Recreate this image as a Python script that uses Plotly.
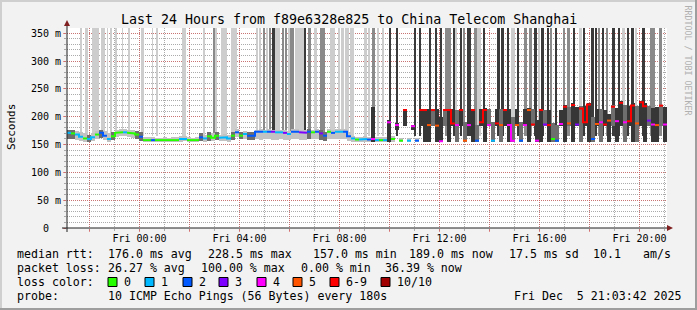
import plotly.graph_objects as go

# ---------------- data ----------------
TITLE = "Last 24 Hours from f89e6328e825 to China Telecom Shanghai"
START_H = -2.9    # first sample, hours relative to Fri 00:00
STEP_H = 0.16     # consolidated step (hours)

median_ms = [
    171, 170, 168, 164, 161, 160, 163, 168, 171, 166,
    160, 165, 171, 172, 172, 171, 170, 168, 164, 158,
    158, 158, 158, 157, 158, 157, 158, 158, 160, 160,
    158, 157, 158, 163, 161, 165, 162, 166, 162, 163,
    161, 166, 172, 166, 169, 166, 166, 173, 173, 173,
    173, 173, 172, 172, 171, 169, 173, 173, 172, 171,
    173, 172, 173, 170, 166, 173, 171, 173, 173, 173,
    165, 161, 159, 159, 160, 159, 160, 158, 158, 158,
    190, 160, 185, 157, 212, 157, 183, 157, 212, 212,
    185, 212, 184, 156, 212, 212, 188, 185, 212, 157,
    185, 212, 157, 190, 212, 185, 157, 188, 185, 212,
    185, 157, 185, 157, 185, 212, 186, 157, 212, 186,
    185, 160, 157, 187, 218, 188, 221, 186, 215, 190,
    222, 160, 187, 190, 186, 193, 218, 192, 225, 190,
    192, 220, 188, 226, 219, 193, 186, 185, 220, 186,
]
loss_cnt = [
    1, 0, 1, 1, 0, 1, 1, 0, 2, 2,
    1, 0, 0, 0, 1, 0, 0, 0, 2, 0,
    0, 2, 0, 0, 0, 0, 0, 0, 1, 1,
    0, 0, 0, 2, 1, 0, 0, 0, 1, 1,
    1, 0, 2, 0, 1, 2, 2, 2, 2, 1,
    2, 3, 1, 1, 3, 1, 2, 2, 3, 3,
    2, 0, 2, 3, 2, 0, 2, 1, 1, 2,
    2, 1, 0, 1, 1, 2, 4, 1, 0, 1,
    4, 0, 4, 0, 6, 1, 4, 2, 7, 7,
    5, 6, 5, 4, 7, 6, 7, 4, 6, 5,
    4, 6, 2, 6, 7, 4, 1, 6, 5, 6,
    4, 4, 5, 2, 4, 5, 7, 4, 6, 3,
    7, 0, 2, 4, 7, 5, 6, 3, 7, 6,
    6, 2, 5, 4, 6, 5, 7, 4, 7, 4,
    6, 7, 5, 6, 7, 3, 4, 5, 7, 4,
]
smoke_lo = [
    160, 160, 158, 156, 154, 154, 156, 160, 162, 158,
    155, 158, 163, 165, 165, 164, 162, 160, 156, 154,
    154, 154, 154, 154, 154, 154, 154, 154, 155, 156,
    154, 154, 154, 156, 155, 157, 156, 158, 156, 156,
    155, 158, 163, 160, 160, 158, 158, 160, 159, 160,
    160, 159, 159, 160, 158, 158, 160, 160, 158, 158,
    160, 160, 160, 158, 157, 160, 160, 160, 160, 160,
    156, 155, 154, 154, 154, 154, 155, 154, 154, 154,
    155, 155, 176, 154, 184, 154, 176, 154, 184, 155,
    155, 184, 155, 155, 184, 155, 184, 155, 184, 155,
    184, 155, 155, 184, 155, 184, 155, 184, 155, 184,
    155, 155, 184, 155, 184, 155, 184, 155, 155, 184,
    155, 155, 155, 184, 155, 184, 155, 184, 155, 184,
    155, 155, 184, 155, 184, 155, 184, 155, 184, 155,
    184, 155, 155, 184, 155, 184, 155, 155, 184, 155,
]
smoke_hi = [
    177, 176, 175, 172, 170, 168, 170, 175, 177, 174,
    170, 172, 176, 178, 178, 177, 176, 175, 172, 164,
    163, 163, 162, 162, 163, 162, 163, 163, 165, 166,
    163, 162, 163, 170, 168, 172, 170, 172, 168, 169,
    167, 172, 178, 173, 175, 172, 172, 177, 178, 177,
    178, 177, 177, 177, 176, 175, 178, 178, 177, 176,
    178, 177, 178, 176, 172, 178, 176, 178, 178, 178,
    172, 166, 164, 164, 165, 164, 217, 163, 163, 163,
    195, 165, 188, 162, 214, 162, 186, 162, 214, 214,
    214, 214, 214, 200, 214, 214, 214, 212, 214, 190,
    214, 214, 185, 214, 216, 214, 190, 214, 214, 214,
    214, 200, 214, 190, 214, 216, 214, 195, 214, 212,
    212, 188, 186, 212, 222, 218, 224, 218, 220, 220,
    225, 200, 214, 214, 212, 205, 222, 215, 229, 222,
    220, 225, 220, 228, 224, 220, 215, 218, 222, 218,
]
smoke_shade = [
    2, 2, 1, 1, 1, 2, 1, 1, 2, 1,
    1, 2, 1, 1, 1, 1, 1, 2, 2, 1,
    1, 1, 1, 1, 1, 1, 1, 1, 1, 1,
    1, 1, 1, 2, 1, 2, 1, 2, 1, 1,
    1, 2, 1, 2, 1, 2, 2, 1, 1, 1,
    1, 1, 1, 1, 1, 1, 1, 1, 1, 1,
    2, 1, 1, 2, 2, 1, 1, 1, 1, 1,
    1, 1, 1, 1, 1, 1, 3, 1, 1, 1,
    3, 1, 3, 1, 3, 1, 3, 1, 3, 3,
    3, 2, 3, 3, 2, 3, 3, 2, 3, 2,
    3, 3, 2, 3, 3, 2, 2, 3, 2, 3,
    3, 2, 3, 2, 3, 3, 2, 3, 3, 2,
    3, 2, 2, 3, 3, 2, 3, 3, 2, 3,
    3, 2, 3, 2, 3, 3, 2, 3, 3, 2,
    3, 3, 2, 3, 3, 2, 3, 3, 2, 3,
]

# periods where the slowest pings ran off the top of the scale
spike_start = [
    -2.38, -2.17, -2.10, -1.90, -1.83, -1.77, -1.67, -1.53, -1.30, -1.17, -0.99, -0.70, -0.43, 0.06, 0.50, 0.67, 1.70,
    2.57, 2.97, 3.03, 3.27, 3.67, 4.66, 4.79, 4.97, 5.06, 5.19, 5.30, 5.43, 5.70, 5.81, 5.94, 6.03, 6.23,
    6.57, 6.74, 6.97, 7.23, 7.63, 7.94, 8.07, 8.23, 8.41, 8.97, 9.17, 9.30, 9.50, 9.70, 9.99, 10.26, 11.01, 11.17,
    11.59, 11.81, 12.03, 12.23, 12.57, 12.63, 12.81, 12.93, 13.10, 13.19, 13.39, 13.50, 13.77, 14.30, 14.47, 14.70,
    14.87, 15.10, 15.37, 15.57, 15.77, 15.94, 16.07,
    16.30, 16.43, 16.63, 16.97, 17.10, 17.37, 17.57, 17.77, 18.07, 18.23, 18.37, 18.50, 18.66, 18.90, 19.17, 19.30,
    19.50, 19.67, 19.83, 20.10, 20.43, 20.77,
]
spike_end = [
    -2.32, -2.13, -2.06, -1.86, -1.79, -1.73, -1.63, -1.37, -1.26, -1.13, -0.90, -0.66, -0.39, 0.18, 0.54, 0.71, 1.86,
    2.61, 3.03, 3.10, 3.50, 3.90, 4.74, 4.83, 5.03, 5.14, 5.27, 5.41, 5.63, 5.77, 5.90, 5.99, 6.17, 6.58,
    6.66, 6.87, 7.10, 7.43, 7.83, 7.99, 8.17, 8.37, 8.57, 9.10, 9.23, 9.41, 9.57, 9.77, 10.05, 10.31, 11.06, 11.25,
    11.67, 11.89, 12.10, 12.47, 12.63, 12.70, 12.90, 13.03, 13.17, 13.27, 13.50, 13.67, 13.83, 14.43, 14.57, 14.79,
    15.03, 15.19, 15.50, 15.70, 15.90, 15.99, 16.18,
    16.37, 16.50, 16.70, 17.03, 17.23, 17.43, 17.70, 17.83, 18.17, 18.30, 18.43, 18.57, 18.74, 19.03, 19.23, 19.41,
    19.57, 19.77, 19.90, 20.21, 20.63, 20.90,
]
spike_shade = [
    1, 1, 1, 1, 1, 1, 1, 1, 1, 1, 1, 1, 1, 1, 1, 1, 1,
    1, 2, 1, 1, 1, 1, 1, 2, 1, 2, 3, 1, 2, 2, 1, 2, 1,
    3, 2, 1, 2, 1, 1, 1, 1, 1, 1, 1, 2, 1, 1, 3, 3, 3, 3,
    3, 3, 3, 2, 3, 1, 3, 2, 3, 3, 2, 1, 3, 3, 3, 3,
    1, 3, 2, 2, 3, 1, 3,
    3, 2, 3, 2, 2, 3, 1, 3, 3, 3, 2, 3, 2, 3, 3, 1,
    3, 3, 1, 3, 2, 2,
]
SPIKE_BASE = 165
SPIKE_TOP = 420

x_tick_hours = [-2, 0, 2, 4, 6, 8, 10, 12, 14, 16, 18, 20]
x_tick_labels = ["", "Fri 00:00", "", "Fri 04:00", "", "Fri 08:00", "", "Fri 12:00", "", "Fri 16:00", "", "Fri 20:00"]
y_tick_vals = [0, 50, 100, 150, 200, 250, 300, 350]
y_tick_labels = ["0\u00a0\u00a0", "50 m", "100 m", "150 m", "200 m", "250 m", "300 m", "350 m"]

loss_labels = ["0", "1", "2", "3", "4", "5", "6-9", "10/10"]
loss_colors = ["#26ff00", "#00b8ff", "#0059ff", "#7e00ff", "#ff00ff", "#ff5500", "#ff0000", "#a10000"]

stats_rtt = ["176.0 ms avg", "228.5 ms max", "157.0 ms min", "189.0 ms now", "17.5 ms sd", "10.1", "am/s"]
stats_loss = ["26.27 % avg", "100.00 % max", "0.00 % min", "36.39 % now"]
probe_text = "10 ICMP Echo Pings (56 Bytes) every 180s"
stamp_text = "Fri Dec  5 21:03:42 2025"

# ---------------- styling ----------------
W, H = 697, 310
PL, PR, PT, PB = 67, 667, 28, 228
MONO = "DejaVu Sans Mono"
SMOKE_COL = {1: "#c2c2c2", 2: "#6e6e6e", 3: "#363636"}
SPIKE_COL = {1: "#cdcdcd", 2: "#8a8a8a", 3: "#3a3a3a"}
GRID = "rgba(143,143,143,0.75)"
MGRID = "rgba(222,79,79,0.6)"


def fx(px):
    return (px - PL) / (PR - PL)


def fy(py):
    return (PB - py) / (PB - PT)


n = len(median_ms)
bin_x = [START_H + STEP_H * (i + 0.5) for i in range(n)]

fig = go.Figure()

# tall smoke spikes
fig.add_trace(go.Bar(
    x=[(a + b) / 2 for a, b in zip(spike_start, spike_end)],
    width=[b - a for a, b in zip(spike_start, spike_end)],
    base=[SPIKE_BASE] * len(spike_start),
    y=[SPIKE_TOP - SPIKE_BASE] * len(spike_start),
    marker=dict(color=[SPIKE_COL[s] for s in spike_shade], line=dict(width=0)),
    hoverinfo="skip", showlegend=False,
))
# core smoke band
fig.add_trace(go.Bar(
    x=bin_x, width=[STEP_H] * n,
    base=smoke_lo, y=[h - l for l, h in zip(smoke_lo, smoke_hi)],
    marker=dict(color=[SMOKE_COL[s] for s in smoke_shade], line=dict(width=0)),
    hoverinfo="skip", showlegend=False,
))


def loss_class(l):
    if l >= 10:
        return 7
    if l >= 6:
        return 6
    return l


cls = [loss_class(l) for l in loss_cnt]
for c in range(len(loss_colors)):
    xs, ys = [], []
    prev = False
    for i in range(n):
        if cls[i] == c:
            x0 = START_H + STEP_H * i
            if not prev and xs:
                xs.append(None)
                ys.append(None)
            xs += [x0, x0 + STEP_H]
            ys += [median_ms[i], median_ms[i]]
            prev = True
        else:
            prev = False
    if xs:
        fig.add_trace(go.Scatter(x=xs, y=ys, mode="lines",
                                 line=dict(color=loss_colors[c], width=2),
                                 hoverinfo="skip", showlegend=False))

shapes = []
# frame
shapes.append(dict(type="rect", xref="paper", yref="paper", x0=fx(0), x1=fx(W), y0=fy(0), y1=fy(2),
                   fillcolor="#cfcfcf", line=dict(width=0), layer="above"))
shapes.append(dict(type="rect", xref="paper", yref="paper", x0=fx(0), x1=fx(2), y0=fy(0), y1=fy(H),
                   fillcolor="#cfcfcf", line=dict(width=0), layer="above"))
shapes.append(dict(type="rect", xref="paper", yref="paper", x0=fx(0), x1=fx(W), y0=fy(H - 2), y1=fy(H),
                   fillcolor="#9e9e9e", line=dict(width=0), layer="above"))
shapes.append(dict(type="rect", xref="paper", yref="paper", x0=fx(W - 2), x1=fx(W), y0=fy(0), y1=fy(H),
                   fillcolor="#9e9e9e", line=dict(width=0), layer="above"))
# axes
shapes.append(dict(type="line", xref="paper", yref="paper", x0=fx(62), x1=fx(668), y0=0, y1=0,
                   line=dict(color="#1f1f1f", width=1), layer="above"))
shapes.append(dict(type="line", xref="paper", yref="paper", x0=0, x1=0, y0=fy(232), y1=fy(25),
                   line=dict(color="#1f1f1f", width=1), layer="above"))
shapes.append(dict(type="path", xref="paper", yref="paper",
                   path=f"M {fx(667)},{fy(225)} L {fx(673)},{fy(228)} L {fx(667)},{fy(231)} Z",
                   fillcolor="#801f1f", line=dict(width=0), layer="above"))
shapes.append(dict(type="path", xref="paper", yref="paper",
                   path=f"M {fx(64)},{fy(26)} L {fx(67)},{fy(20)} L {fx(70)},{fy(26)} Z",
                   fillcolor="#801f1f", line=dict(width=0), layer="above"))

annotations = []


def txt(s, px, py, size=11.6, color="#000000", anchor="left", angle=0):
    annotations.append(dict(text=s.replace(" ", "\u00a0"), x=fx(px), y=fy(py), xref="paper", yref="paper",
                            xanchor=anchor, yanchor="middle", showarrow=False, borderpad=0,
                            textangle=angle, font=dict(family=MONO, size=size, color=color)))


txt(TITLE, 348.5, 19, size=13.3, anchor="center")
txt("Seconds", 11, 127, size=11, anchor="center", angle=-90)
txt("RRDTOOL / TOBI OETIKER", 687.5, 60, size=8.3, color="#b0b0b0", anchor="center", angle=90)

y1, y2, y3, y4 = 254, 268, 282, 296
txt("median rtt:", 16, y1)
for s, px in zip(stats_rtt, [107, 207, 312, 408, 508, 592, 642]):
    txt(s, px, y1)
txt("packet loss:", 16, y2)
for s, px in zip(stats_loss, [107, 200, 300, 384]):
    txt(s, px, y2)
txt("loss color:", 16, y3)
box_px = [108, 145, 183, 219, 257, 293, 330, 381]
for lab, col, bx in zip(loss_labels, loss_colors, box_px):
    shapes.append(dict(type="rect", xref="paper", yref="paper", x0=fx(bx), x1=fx(bx + 9),
                       y0=fy(286.5), y1=fy(277.5), fillcolor=col,
                       line=dict(color="#000000", width=1), layer="above"))
    txt(lab, bx + 15, y3)
txt("probe:", 16, y4)
txt(probe_text, 107, y4)
txt(stamp_text, 513, y4)

fig.update_layout(
    width=W, height=H,
    margin=dict(l=PL, r=W - PR, t=PT, b=H - PB, autoexpand=False),
    paper_bgcolor="#f2f2f2", plot_bgcolor="#ffffff",
    barmode="overlay", bargap=0, showlegend=False,
    shapes=shapes, annotations=annotations,
    font=dict(family=MONO, size=10, color="#000000"),
    xaxis=dict(range=[START_H, START_H + 24], tickmode="array", tickvals=x_tick_hours, ticktext=x_tick_labels,
               showgrid=True, gridcolor=MGRID, griddash="1px,1px", gridwidth=1,
               ticks="outside", ticklen=3, tickcolor=MGRID, zeroline=False, showline=False,
               ticklabelstandoff=-2,
               tickfont=dict(family=MONO, size=10, color="#000000"),
               minor=dict(dtick=1, tick0=0, showgrid=True, gridcolor=GRID, griddash="1px,1px",
                          ticks="outside", ticklen=2, tickcolor=GRID),
               fixedrange=True),
    yaxis=dict(range=[0, 359.5], tickmode="array", tickvals=y_tick_vals, ticktext=y_tick_labels,
               showgrid=True, gridcolor=MGRID, griddash="1px,1px", gridwidth=1,
               ticks="outside", ticklen=3, tickcolor=MGRID, zeroline=False, showline=False,
               tickfont=dict(family=MONO, size=10, color="#000000"),
               minor=dict(dtick=10, tick0=0, showgrid=True, gridcolor=GRID, griddash="1px,1px",
                          ticks="outside", ticklen=2, tickcolor=GRID),
               fixedrange=True),
)

fig.write_html("out.html")
